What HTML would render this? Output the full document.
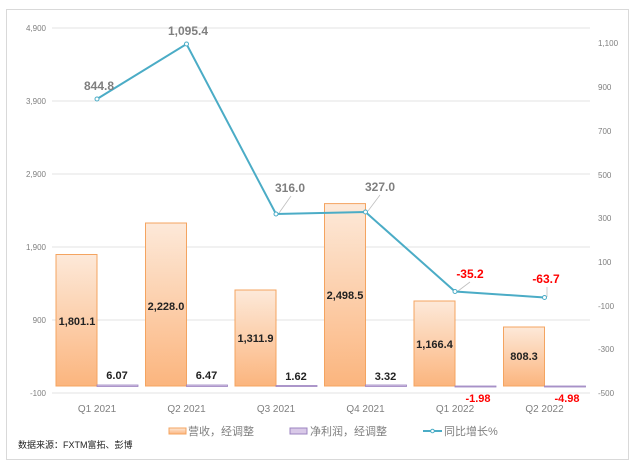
<!DOCTYPE html>
<html><head><meta charset="utf-8"><style>
html,body{margin:0;padding:0;background:#fff}
svg{display:block;font-family:"Liberation Sans","Noto Sans CJK SC",sans-serif}
</style></head><body>
<svg width="635" height="467" viewBox="0 0 635 467">
<defs>
<linearGradient id="g" x1="0" y1="0" x2="0" y2="1">
<stop offset="0" stop-color="#fde9d9"/><stop offset="1" stop-color="#fbb57e"/>
</linearGradient>
</defs>
<rect x="6.5" y="9.5" width="622" height="450" fill="#fff" stroke="#d9d9d9"/>
<g stroke="#e3e3e3" stroke-width="1">
<line x1="52" y1="28" x2="590" y2="28"/>
<line x1="52" y1="101" x2="590" y2="101"/>
<line x1="52" y1="174" x2="590" y2="174"/>
<line x1="52" y1="247" x2="590" y2="247"/>
<line x1="52" y1="320" x2="590" y2="320"/>
<line x1="52" y1="393" x2="590" y2="393"/>
</g>
<g font-size="8" fill="#7f7f7f" text-anchor="end">
<text x="46" y="31">4,900</text><text x="46" y="104">3,900</text><text x="46" y="177">2,900</text>
<text x="46" y="250">1,900</text><text x="46" y="323">900</text><text x="46" y="396">-100</text>
</g>
<g font-size="8" fill="#7f7f7f" text-anchor="start">
<text x="598" y="46">1,100</text><text x="598" y="90">900</text><text x="598" y="134">700</text>
<text x="598" y="178">500</text><text x="598" y="221">300</text><text x="598" y="265">100</text>
<text x="598" y="309">-100</text><text x="598" y="352">-300</text><text x="598" y="396">-500</text>
</g>
<g fill="url(#g)" stroke="#f4a460" stroke-width="1">
<rect x="56" y="254.5" width="41" height="131.5"/>
<rect x="145.5" y="223" width="41" height="163"/>
<rect x="235" y="290" width="41" height="96"/>
<rect x="324.5" y="203.6" width="41" height="182.4"/>
<rect x="414" y="301" width="41" height="85"/>
<rect x="503.5" y="327" width="41" height="59"/>
</g>
<g fill="#d9c9e8" stroke="#9c84c0" stroke-width="0.8">
<rect x="97" y="385" width="41" height="1.5"/>
<rect x="186.5" y="385" width="41" height="1.5"/>
<rect x="276" y="385.5" width="41" height="1"/>
<rect x="365.5" y="385" width="41" height="1.5"/>
<rect x="455" y="386" width="41" height="1"/>
<rect x="544.5" y="386" width="41" height="1"/>
</g>
<g font-size="11" font-weight="bold" fill="#222" text-anchor="middle">
<text x="77" y="325">1,801.1</text><text x="166" y="310">2,228.0</text><text x="255.5" y="342">1,311.9</text>
<text x="345" y="299">2,498.5</text><text x="434.5" y="348">1,166.4</text><text x="524" y="360">808.3</text>
<text x="117" y="379">6.07</text><text x="206.5" y="379">6.47</text><text x="296" y="380">1.62</text><text x="385.5" y="380">3.32</text>
</g>
<g font-size="11" font-weight="bold" fill="#ff0000" text-anchor="middle">
<text x="478" y="402">-1.98</text><text x="567" y="402">-4.98</text>
</g>
<g stroke="#bfbfbf" stroke-width="0.8">
<line x1="279" y1="213" x2="291" y2="196"/>
<line x1="368" y1="211" x2="380" y2="195"/>
<line x1="458" y1="291" x2="470" y2="282"/>
<line x1="547" y1="297" x2="547" y2="287"/>
</g>
<polyline points="97,99 186.5,44 276,214 365.5,212 455,291.5 544.5,297.5" fill="none" stroke="#4bacc6" stroke-width="2"/>
<g fill="#fff" stroke="#4bacc6" stroke-width="1">
<circle cx="97" cy="99" r="2"/><circle cx="186.5" cy="44" r="2"/><circle cx="276" cy="214" r="2"/>
<circle cx="365.5" cy="212" r="2"/><circle cx="455" cy="291.5" r="2"/><circle cx="544.5" cy="297.5" r="2"/>
</g>
<g font-size="12" font-weight="bold" fill="#7f7f7f" text-anchor="middle">
<text x="99" y="90">844.8</text><text x="188" y="35">1,095.4</text><text x="290" y="192">316.0</text><text x="380" y="191">327.0</text>
</g>
<g font-size="12" font-weight="bold" fill="#ff0000" text-anchor="middle">
<text x="470" y="278">-35.2</text><text x="546" y="283">-63.7</text>
</g>
<g font-size="10" fill="#7f7f7f" text-anchor="middle">
<text x="97" y="412">Q1 2021</text><text x="186.5" y="412">Q2 2021</text><text x="276" y="412">Q3 2021</text>
<text x="365.5" y="412">Q4 2021</text><text x="455" y="412">Q1 2022</text><text x="544.5" y="412">Q2 2022</text>
</g>
<rect x="169" y="428" width="17" height="6" fill="url(#g)" stroke="#f4a460"/>
<text x="188" y="435" font-size="11" fill="#7f7f7f">营收，经调整</text>
<rect x="290" y="428" width="17" height="6" fill="#d9c9e8" stroke="#9c84c0"/>
<text x="310" y="435" font-size="11" fill="#7f7f7f">净利润，经调整</text>
<line x1="423" y1="431" x2="442" y2="431" stroke="#4bacc6" stroke-width="2"/>
<circle cx="432.5" cy="431" r="1.8" fill="#fff" stroke="#4bacc6"/>
<text x="444" y="435" font-size="11" fill="#7f7f7f">同比增长%</text>
<text x="18" y="448" font-size="9" fill="#222">数据来源：FXTM富拓、彭博</text>
</svg>
</body></html>
